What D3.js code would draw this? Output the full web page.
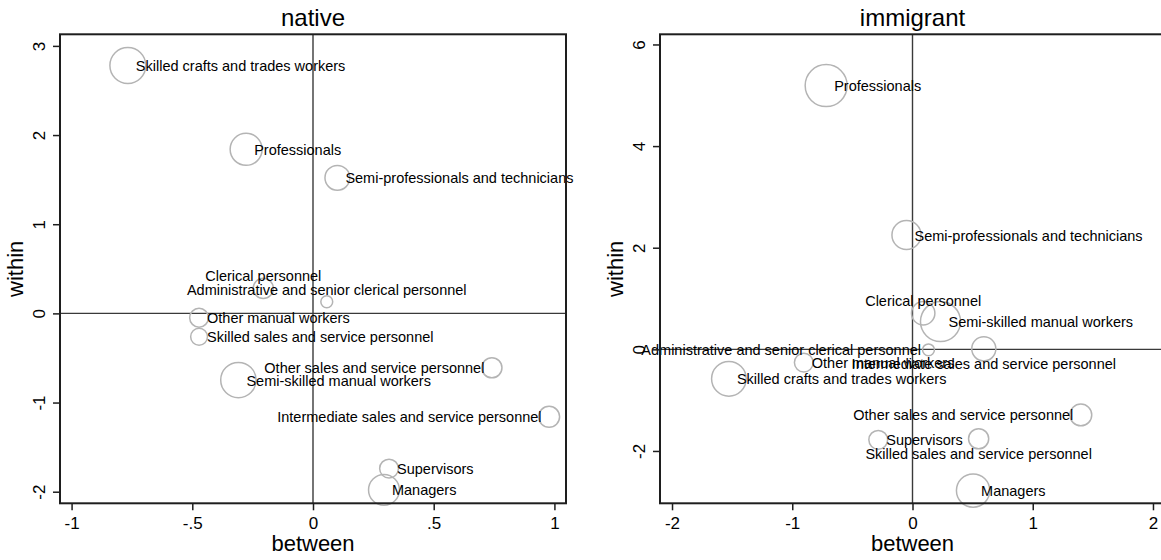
<html>
<head>
<title>between / within</title>
<script type="text/javascript" src="https://cdn.jsdelivr.net/npm/d3@7/dist/d3.min.js"></script>
<style>
body { margin: 0; background: #ffffff; }
text { font-family: "Liberation Sans", Arial, Helvetica, sans-serif; fill: #000000; }
</style>
</head>
<body>
<div id="chart"></div>
<script type="text/javascript">

// occupation groups, same order in both panels
var occupations = [
  "Managers",
  "Professionals",
  "Semi-professionals and technicians",
  "Supervisors",
  "Administrative and senior clerical personnel",
  "Clerical personnel",
  "Intermediate sales and service personnel",
  "Skilled sales and service personnel",
  "Other sales and service personnel",
  "Skilled crafts and trades workers",
  "Semi-skilled manual workers",
  "Other manual workers"
];

// native
var nativeBetween = [0.294, -0.277, 0.101, 0.315, 0.057, -0.206, 0.978, -0.472, 0.741, -0.767, -0.309, -0.472];
var nativeWithin  = [-1.98, 1.84, 1.52, -1.74, 0.13, 0.28, -1.16, -0.262, -0.61, 2.78, -0.748, -0.049];
var nativeWeight  = [54, 58, 35, 20, 8, 23, 25, 16, 23, 73, 71, 20];
var nativeLabelPos = [3, 3, 3, 3, 12, 12, 9, 3, 9, 3, 3, 3];   // clock positions

// immigrant
var immBetween = [0.504, -0.718, -0.05, -0.285, 0.133, 0.089, 0.593, 0.55, 1.40, -1.527, 0.233, -0.904];
var immWithin  = [-2.78, 5.19, 2.25, -1.78, -0.01, 0.71, 0.01, -1.76, -1.29, -0.58, 0.547, -0.26];
var immWeight  = [63, 100, 48, 20, 8, 31, 33, 23, 27, 68, 91, 20];
var immLabelPos = [3, 3, 3, 3, 9, 12, 6, 6, 9, 3, 3, 3];

var nativeXTicks = [-1, -0.5, 0, 0.5, 1];
var nativeYTicks = [-2, -1, 0, 1, 2, 3];
var immXTicks = [-2, -1, 0, 1, 2];
var immYTicks = [-2, 0, 2, 4, 6];

// stata style numbers: -.5, .5
function stataFmt(v) {
  var s = "" + v;
  return s.replace(/^0\./, ".").replace(/^-0\./, "-.");
}

var svg = d3.select("#chart").append("svg")
  .attr("width", 1161)
  .attr("height", 560);

svg.append("rect").attr("width", 1161).attr("height", 560).attr("fill", "#ffffff");

var rScale = d3.scaleSqrt().domain([0, 100]).range([0, 21]);

function drawPanel(opts) {
  var x = d3.scaleLinear().domain(opts.xDomain).range([opts.left, opts.right]);
  var y = d3.scaleLinear().domain(opts.yDomain).range([opts.bottom, opts.top]);
  var g = svg.append("g");

  // title
  g.append("text")
    .attr("x", (opts.left + opts.right) / 2)
    .attr("y", 26)
    .attr("text-anchor", "middle")
    .style("font-size", "24px")
    .text(opts.title);

  // zero reference lines
  g.append("line")
    .attr("x1", x(0)).attr("x2", x(0))
    .attr("y1", opts.top).attr("y2", opts.bottom)
    .attr("stroke", "#3a3a3a").attr("stroke-width", 1.4);
  g.append("line")
    .attr("x1", opts.left).attr("x2", opts.right)
    .attr("y1", y(0)).attr("y2", y(0))
    .attr("stroke", "#3a3a3a").attr("stroke-width", 1.4);

  // bubbles
  var pts = occupations.map(function(name, i) {
    return { name: name, bx: opts.between[i], wy: opts.within[i], w: opts.weight[i], pos: opts.labelPos[i] };
  });

  g.selectAll("circle.bub").data(pts).enter().append("circle")
    .attr("class", "bub")
    .attr("cx", function(d) { return x(d.bx); })
    .attr("cy", function(d) { return y(d.wy); })
    .attr("r", function(d) { return rScale(d.w); })
    .attr("fill", "none")
    .attr("stroke", "#b4b4b4")
    .attr("stroke-width", 1.5);

  g.selectAll("text.lab").data(pts).enter().append("text")
    .attr("class", "lab")
    .style("font-size", "14.5px")
    .attr("x", function(d) {
      if (d.pos == 3) return x(d.bx) + 8;
      if (d.pos == 9) return x(d.bx) - 7.5;
      return x(d.bx);
    })
    .attr("y", function(d) {
      if (d.pos == 12) return y(d.wy) - 7;
      if (d.pos == 6) return y(d.wy) + 20;
      return y(d.wy) + 5.5;
    })
    .attr("text-anchor", function(d) {
      if (d.pos == 3) return "start";
      if (d.pos == 9) return "end";
      return "middle";
    })
    .text(function(d) { return d.name; });

  // frame
  g.append("rect")
    .attr("x", opts.left).attr("y", opts.top)
    .attr("width", opts.right - opts.left)
    .attr("height", opts.bottom - opts.top)
    .attr("fill", "none")
    .attr("stroke", "#1e1e1e")
    .attr("stroke-width", 2);

  // x axis
  var xAxis = d3.axisBottom(x).tickValues(opts.xTicks).tickSize(7).tickPadding(6).tickFormat(stataFmt);
  var xg = g.append("g").attr("transform", "translate(0," + opts.bottom + ")").call(xAxis);
  xg.select(".domain").remove();
  xg.selectAll(".tick line").attr("stroke", "#1e1e1e").attr("stroke-width", 1.5);
  xg.selectAll(".tick text").style("font-size", "17px").attr("fill", "#000").attr("y", 14).attr("dy", "0.71em")
    .style("font-family", "'Liberation Sans', Arial, sans-serif");

  // y axis, rotated labels
  var yAxis = d3.axisLeft(y).tickValues(opts.yTicks).tickSize(7).tickFormat(stataFmt);
  var yg = g.append("g").attr("transform", "translate(" + opts.left + ",0)").call(yAxis);
  yg.select(".domain").remove();
  yg.selectAll(".tick line").attr("stroke", "#1e1e1e").attr("stroke-width", 1.5);
  yg.selectAll(".tick text")
    .attr("x", null).attr("dy", null)
    .attr("transform", "translate(-15.5,0) rotate(-90)")
    .attr("text-anchor", "middle")
    .attr("fill", "#000")
    .style("font-size", "17px")
    .style("font-family", "'Liberation Sans', Arial, sans-serif");

  // axis titles
  g.append("text")
    .attr("x", x(0))
    .attr("y", 551)
    .attr("text-anchor", "middle")
    .style("font-size", "22px")
    .text("between");

  g.append("text")
    .attr("transform", "translate(" + (opts.left - 37) + "," + ((opts.top + opts.bottom) / 2) + ") rotate(-90)")
    .attr("text-anchor", "middle")
    .style("font-size", "22px")
    .text("within");
}

drawPanel({
  title: "native",
  left: 60, right: 566, top: 34.3, bottom: 503.3,
  xDomain: [-1.048, 1.048], yDomain: [-2.13, 3.13],
  xTicks: nativeXTicks, yTicks: nativeYTicks,
  between: nativeBetween, within: nativeWithin, weight: nativeWeight, labelPos: nativeLabelPos
});

drawPanel({
  title: "immigrant",
  left: 660, right: 1165, top: 34.3, bottom: 503.3,
  xDomain: [-2.1, 2.1], yDomain: [-3.03, 6.2],
  xTicks: immXTicks, yTicks: immYTicks,
  between: immBetween, within: immWithin, weight: immWeight, labelPos: immLabelPos
});

</script>
</body>
</html>
